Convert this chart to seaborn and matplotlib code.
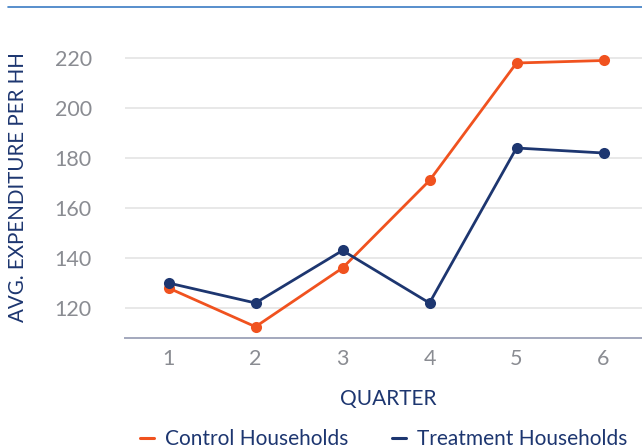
import numpy as np
import pandas as pd
import matplotlib
matplotlib.use("Agg")
import matplotlib.pyplot as plt
from matplotlib.lines import Line2D
import seaborn as sns

quarters = [1, 2, 3, 4, 5, 6]
control = [128, 112.5, 136, 171, 218, 219]
treatment = [130, 122, 143, 122, 184, 182]
series_names = ["Control Households", "Treatment Households"]
y_ticks = [120, 140, 160, 180, 200, 220]

ORANGE = "#f0521f"
NAVY = "#1d3670"
GRID = "#e8e8e8"
TICK = "#8a8c92"

df = pd.DataFrame({
    "quarter": quarters * 2,
    "value": control + treatment,
    "group": [series_names[0]] * len(quarters) + [series_names[1]] * len(quarters),
})

sns.set_theme(style="white")
plt.rcParams["font.family"] = ["Lato", "DejaVu Sans"]

fig = plt.figure(figsize=(6.42, 4.48), dpi=100)
ax = fig.add_axes([125 / 642, 110 / 448, 522 / 642, 300 / 448])

sns.lineplot(
    data=df, x="quarter", y="value", hue="group",
    palette={series_names[0]: ORANGE, series_names[1]: NAVY},
    marker="o", markersize=8, markeredgewidth=0, linewidth=2.0,
    legend=False, ax=ax, zorder=3,
)

ax.set_xlim(0.5, 6.5)
ax.set_ylim(108, 228)
ax.set_xticks(quarters)
ax.set_yticks(y_ticks)
ax.yaxis.grid(True, color=GRID, linewidth=1.4)
ax.set_axisbelow(True)
for side in ["top", "right", "left"]:
    ax.spines[side].set_visible(False)
ax.spines["bottom"].set_color("#a3a8bd")
ax.spines["bottom"].set_linewidth(1.4)
ax.tick_params(axis="both", length=0, labelsize=15.5, colors=TICK)
ax.tick_params(axis="x", pad=8)
ax.tick_params(axis="y", pad=24)

ax.set_xlabel("QUARTER", color=NAVY, fontsize=15, labelpad=14)
ax.set_ylabel("")
fig.text(18 / 642, 1 - 187 / 448, "AVG. EXPENDITURE PER HH", rotation=90,
         ha="center", va="center", color=NAVY, fontsize=14.8)
ax.xaxis.label.set_position((263 / 522, 0))

# horizontal rule along the top
fig.add_artist(Line2D([8 / 642, 1], [1 - 7 / 448, 1 - 7 / 448],
                      color="#3b7cc4", linewidth=1.2, transform=fig.transFigure))

handles = [Line2D([], [], color=ORANGE, linewidth=2.2),
           Line2D([], [], color=NAVY, linewidth=2.2)]
fig.legend(handles, series_names, loc="center left", ncol=2,
           bbox_to_anchor=(132 / 642, 1 - 439 / 448), frameon=False,
           fontsize=15, handlelength=0.65, handletextpad=0.55,
           columnspacing=2.1, labelcolor=NAVY, borderaxespad=0)

fig.savefig("out.png", dpi=100, facecolor="white")
